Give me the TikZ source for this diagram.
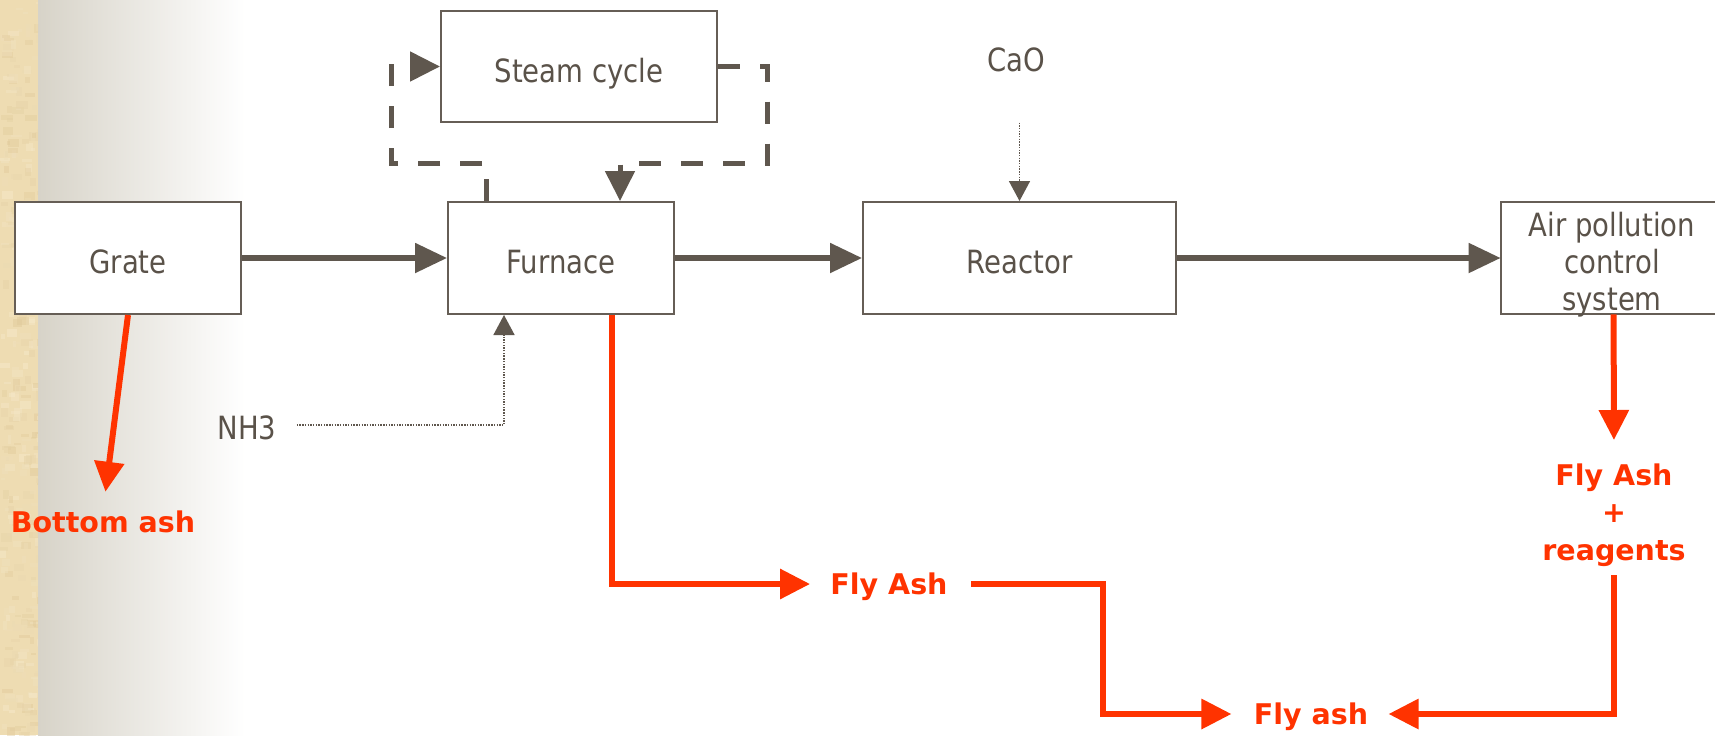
\documentclass[tikz,border=0pt]{standalone}
\usepackage{fontspec}
\setmainfont{DejaVu Sans}
\newfontfamily\grayfont[FakeStretch=0.86]{DejaVu Sans}
\usetikzlibrary{arrows.meta,calc}
\definecolor{linegray}{HTML}{5F574E}
\definecolor{txtgray}{HTML}{5A5249}
\definecolor{boxgray}{HTML}{665E56}
\definecolor{ashred}{HTML}{FF3300}
\definecolor{texA}{HTML}{EEDCB2}
\definecolor{texB}{HTML}{F7EBCD}
\definecolor{texC}{HTML}{E0C998}
\definecolor{gradgray}{HTML}{D7D3C8}
\begin{document}
\begin{tikzpicture}[x=0.5pt,y=-0.5pt,
  box/.style={draw=boxgray, line width=1pt, fill=white, inner sep=0pt,
    font=\grayfont\fontsize{16}{18.5}\selectfont, text=txtgray,
    text height=15.6pt, text depth=0pt},
  openbox/.style={draw=none, fill=white, inner sep=0pt},
  graylabel/.style={inner sep=0pt, text=txtgray, font=\grayfont\fontsize{16}{18.5}\selectfont},
  flow/.style={draw=linegray, line width=2.6pt, -{Triangle[length=16pt,width=14.5pt]}},
  steamflow/.style={draw=linegray, line width=2.5pt, dash pattern=on 11pt off 10pt,
    -{Triangle[length=15pt,width=14.5pt]}},
  feed/.style={draw=linegray, line width=0.8pt, dash pattern=on 0.7pt off 0.65pt,
    -{Triangle[length=10pt,width=10.5pt]}},
  ash/.style={draw=ashred, line width=3pt, -{Triangle[length=15pt,width=14.5pt]}},
  redlabel/.style={inner sep=0pt, text=ashred, font=\bfseries\fontsize{14.25}{18.75}\selectfont,
    text height=10.4pt, text depth=0pt},
  redmulti/.style={inner sep=0pt, text=ashred, align=center,
    font=\bfseries\fontsize{14.25}{18.75}\selectfont},
]
\useasboundingbox (0,0) rectangle (1715,735);
% background
\fill[white] (0,0) rectangle (1715,735);
\shade[left color=gradgray, right color=white] (38,0) rectangle (245,735);
\begin{scope}
  \clip (0,0) rectangle (38,735);
  \fill[texA] (0,0) rectangle (38,735);
  \pgfmathsetseed{12}
  \foreach \i in {1,...,320}{
    \pgfmathsetmacro{\tx}{rnd*38}
    \pgfmathsetmacro{\ty}{rnd*735}
    \pgfmathsetmacro{\tw}{3+rnd*9}
    \pgfmathsetmacro{\th}{2+rnd*7}
    \pgfmathtruncatemacro{\tm}{rnd*100}
    \fill[texB!\tm!texC, opacity=0.45] (\tx,\ty) rectangle ++(\tw,\th);
  }
\end{scope}

% boxes (sizes in pt: 1 px = 0.5 pt)
\node[box, minimum width=113pt, minimum height=56pt] (grate) at (128,258) {Grate};
\node[box, minimum width=138pt, minimum height=55.5pt] (steam) at (579,66.5) {Steam cycle};
\node[box, minimum width=113pt, minimum height=56pt] (furnace) at (561,258) {Furnace};
\node[box, minimum width=156.5pt, minimum height=56pt] (reactor) at (1019.5,258) {Reactor};
\node[openbox, minimum width=114.5pt, minimum height=56pt] (apc) at (1615.5,258) {};
\draw[boxgray, line width=1pt] (apc.north east) -- (apc.north west) -- (apc.south west) -- (apc.south east);
\node[graylabel, align=center] (apctext) at (1612,264.6) {Air pollution\\control\\system};

% gray labels
\node[graylabel] (cao) at (1016,60) {CaO};
\node[graylabel] (nh3) at (247,428) {NH3};

% red labels
\node[redlabel] (ba) at (103,522) {Bottom ash};
\node[redlabel] (fa1) at (889,584) {Fly Ash};
\node[redlabel] (fa2) at (1311,714) {Fly ash};
\node[redmulti, anchor=north] (fa3) at (1614,463) {Fly Ash\\+\\reagents};

% main flow
\draw[flow] (grate.east) -- (furnace.west);
\draw[flow] (furnace.east) -- (reactor.west);
\draw[flow] (reactor.east) -- (apc.west);

% steam loop
\coordinate (sl) at (391,163);
\coordinate (sr) at (767,163);
\draw[steamflow] ($(furnace.north west)+(39,0)$) |- (sl) |- (steam.west);
\draw[steamflow] (steam.east) -| (sr) -| ($(furnace.north west)+(173,0)$);

% reagent feeds
\draw[feed, shorten <=25pt] (reactor.north |- cao.south) -- (reactor.north);
\draw[feed, shorten <=10pt] ([yshift=1.5pt]nh3.east) -| ($(furnace.south west)+(57,0)$);

% ash streams
\draw[ash, shorten >=9.8pt] (grate.south) -- (ba.north);
\draw[ash, shorten >=10pt] ($(furnace.south west)+(165,0)$) |- (fa1.west);
\coordinate (j1) at (1102.5,0);
\draw[ash, shorten <=11.5pt, shorten >=11pt] (fa1.east) -- (fa1.east -| j1) |- (fa2.west);
\draw[ash, shorten >=11.5pt] ($(apc.south west)+(113,0)$) -- (fa3.north);
\draw[ash, shorten <=4.3pt, shorten >=10pt] (fa3.south) |- (fa2.east);
\end{tikzpicture}
\end{document}
